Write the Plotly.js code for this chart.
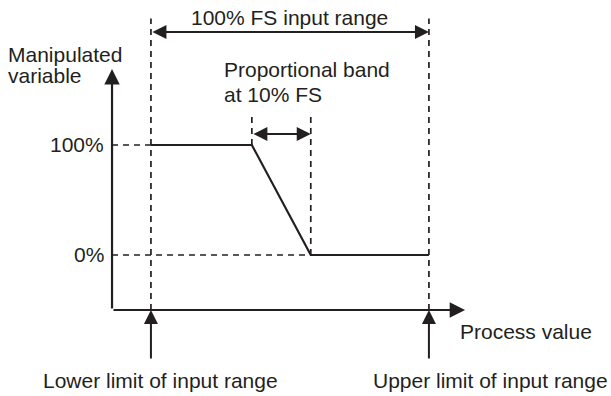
<!DOCTYPE html>
<html>
<head>
<meta charset="utf-8">
<script src="https://cdn.plot.ly/plotly-3.0.1.min.js"></script>
<style>html,body{margin:0;padding:0;background:#fff;}#chart{width:611px;height:396px;}</style>
</head>
<body>
<div id="chart"></div>
<script>
// Process value in % of input range (lower limit = 0, upper limit = 100)
const processValue = [0, 36.3, 57.5, 100];
// Manipulated variable in %
const manipulatedVariable = [100, 100, 0, 0];
const yTickLabels = ['100%', '0%'];
const yTickValues = [100, 0];

const ink = '#231f20';
const font = {family: 'Liberation Sans, Arial, sans-serif', size: 21, color: ink};
const dash = {color: ink, width: 1.7, dash: '6px,5px'};

const traces = [];
function guide(xs, ys) {
  traces.push({x: xs, y: ys, mode: 'lines', line: dash, hoverinfo: 'skip', showlegend: false});
}
// dashed guides
guide([processValue[0], processValue[0]], [-50, 215]);
guide([processValue[3], processValue[3]], [-50, 215]);
guide([processValue[1], processValue[1]], [manipulatedVariable[1], 128]);
guide([processValue[2], processValue[2]], [manipulatedVariable[2], 128]);
guide([-14, processValue[0]], [yTickValues[0], yTickValues[0]]);
guide([-14, processValue[2]], [yTickValues[1], yTickValues[1]]);

// control output curve
traces.push({x: processValue, y: manipulatedVariable, mode: 'lines',
  line: {color: ink, width: 2.2}, hoverinfo: 'skip', showlegend: false});

function arrow(x, y, ax, ay, both, w) {
  return {x: x, y: y, ax: ax, ay: ay, xref: 'x', yref: 'y', axref: 'x', ayref: 'y',
    text: '', showarrow: true, arrowhead: 2, startarrowhead: 2,
    arrowside: both ? 'end+start' : 'end', arrowsize: 1.4, startarrowsize: 1.4,
    arrowwidth: w || 2, arrowcolor: ink, standoff: 0, startstandoff: 0};
}
function label(text, x, y, xanchor) {
  return {x: x, y: y, xref: 'x', yref: 'y', text: text, showarrow: false,
    xanchor: xanchor || 'center', yanchor: 'middle', align: 'left', font: font};
}

const annotations = [
  arrow(-14, 169, -14, -50, false, 2.2),            // y axis
  arrow(113, -50, -14, -50, false, 2.2),            // x axis
  arrow(processValue[0], -50, processValue[0], -95.5, false, 2),
  arrow(processValue[3], -50, processValue[3], -95.5, false, 2),
  arrow(processValue[3], 202.7, processValue[0], 202.7, true, 2),
  arrow(processValue[2], 110, processValue[1], 110, true, 2),
  label('100% FS input range', 50, 215.5),
  label('Manipulated', -52, 182.3, 'left'),
  label('variable', -52, 163.2, 'left'),
  label('Proportional band', 25.7, 168.2, 'left'),
  label('at 10% FS', 25.7, 145.5, 'left'),
  label(yTickLabels[0], -16.2, yTickValues[0], 'right'),
  label(yTickLabels[1], -16.2, yTickValues[1], 'right'),
  label('Process value', 110.4, -70, 'left'),
  label('Lower limit of input range', 3.4, -114.5),
  label('Upper limit of input range', 122.3, -114.5)
];

const layout = {
  width: 611, height: 396,
  margin: {l: 0, r: 0, t: 0, b: 0},
  paper_bgcolor: '#ffffff', plot_bgcolor: '#ffffff',
  xaxis: {range: [-54.3, 165.5], visible: false, fixedrange: true},
  yaxis: {range: [-128.2, 231.8], visible: false, fixedrange: true},
  annotations: annotations,
  showlegend: false
};
Plotly.newPlot('chart', traces, layout, {staticPlot: true, displayModeBar: false});
</script>
</body>
</html>
